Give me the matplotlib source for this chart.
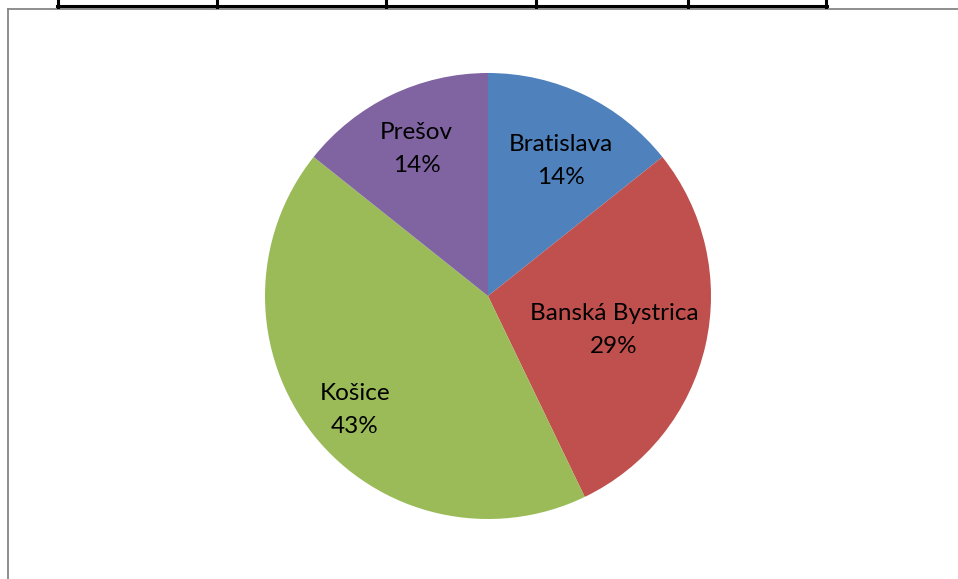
import matplotlib
matplotlib.use("Agg")
import matplotlib.pyplot as plt
from matplotlib.lines import Line2D

# data
regions = ["Bratislava", "Banská Bystrica", "Košice", "Prešov"]
values = [1, 2, 3, 1]
colors = ["#4F81BD", "#C0504D", "#9BBB59", "#8064A2"]
# label offsets (in pie radius units)
label_pos = [(0.325, 0.605), (0.565, -0.152), (-0.596, -0.511), (-0.320, 0.659)]

W, H = 958, 579
fig = plt.figure(figsize=(W / 100, H / 100), dpi=100)
plt.rcParams['font.family'] = ['Lato', 'DejaVu Sans']

# pie axes: centre (488, 296) px, radius 223 px
cx, cy, r = 488, 296, 223
ax = fig.add_axes([(cx - r) / W, (H - cy - r) / H, 2 * r / W, 2 * r / H])
ax.pie(values, colors=colors, startangle=90, counterclock=False,
       wedgeprops=dict(linewidth=0))
ax.set_xlim(-1, 1)
ax.set_ylim(-1, 1)
ax.axis('off')

total = sum(values)
for name, v, (x, y) in zip(regions, values, label_pos):
    ax.text(x, y, f"{name}\n{round(100 * v / total)}%", ha='center', va='center',
            fontsize=17.5, color='black', linespacing=1.68)

# frame of chart area (gray) and bottom of table above (black)
def px_line(xs, ys, **kw):
    fig.add_artist(Line2D([x / W for x in xs], [1 - y / H for y in ys],
                          transform=fig.transFigure, **kw))

px_line([8, 958], [8.5, 8.5], color='#868686', lw=1.3)
px_line([7.5, 7.5], [8.5, 579], color='#868686', lw=1.3)

px_line([57, 827], [5.5, 5.5], color='black', lw=2.2)
for xv in [58, 217, 386, 536, 688, 826]:
    px_line([xv, xv], [0, 6.5], color='black', lw=2.2)

fig.savefig("out.png", dpi=100)
